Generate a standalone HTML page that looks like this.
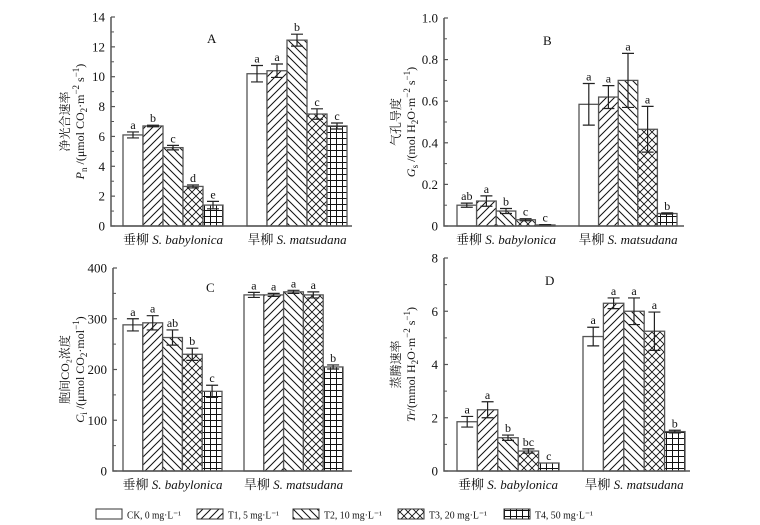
<!DOCTYPE html>
<html><head><meta charset="utf-8">
<style>
html,body{margin:0;padding:0;background:#fff;}
svg{display:block;font-family:"Liberation Serif","Noto Serif CJK SC",serif;}
</style></head>
<body>
<svg id="fig" width="760" height="525" viewBox="0 0 760 525" xmlns="http://www.w3.org/2000/svg">
<defs>
<pattern id="p1" patternUnits="userSpaceOnUse" width="8" height="8"><rect width="8" height="8" fill="#fff"/><path d="M-2,10 L10,-2 M-2,2 L2,-2 M6,10 L10,6" stroke="#111" stroke-width="1"/></pattern>
<pattern id="p2" patternUnits="userSpaceOnUse" width="8" height="8"><rect width="8" height="8" fill="#fff"/><path d="M-2,-2 L10,10 M6,-2 L10,2 M-2,6 L2,10" stroke="#111" stroke-width="1"/></pattern>
<pattern id="p3" patternUnits="userSpaceOnUse" width="8" height="8"><rect width="8" height="8" fill="#fff"/><path d="M-2,10 L10,-2 M-2,2 L2,-2 M6,10 L10,6 M-2,-2 L10,10 M6,-2 L10,2 M-2,6 L2,10" stroke="#111" stroke-width="0.9"/></pattern>
<pattern id="p4" patternUnits="userSpaceOnUse" width="6" height="6"><rect width="6" height="6" fill="#fff"/><path d="M0,0.5 H6 M0.5,0 V6" stroke="#111" stroke-width="1"/></pattern>
</defs>
<g id="root"></g>
</svg>
<script>
// ---- data ----
const groups = ["垂柳 S. babylonica", "旱柳 S. matsudana"];
const treatments = ["CK, 0 mg·L⁻¹", "T1, 5 mg·L⁻¹", "T2, 10 mg·L⁻¹", "T3, 20 mg·L⁻¹", "T4, 50 mg·L⁻¹"];
const aVals = [[6.1, 6.7, 5.25, 2.65, 1.4], [10.2, 10.4, 12.45, 7.5, 6.7]];
const aErr = [[0.2, 0.05, 0.15, 0.1, 0.25], [0.55, 0.45, 0.4, 0.35, 0.2]];
const aLet = [["a", "b", "c", "d", "e"], ["a", "a", "b", "c", "c"]];
const aTicks = [0, 2, 4, 6, 8, 10, 12, 14];
const bVals = [[0.10, 0.12, 0.072, 0.03, 0.005], [0.585, 0.62, 0.70, 0.465, 0.06]];
const bErr = [[0.01, 0.025, 0.012, 0.005, 0.002], [0.1, 0.055, 0.13, 0.11, 0.003]];
const bLet = [["ab", "a", "b", "c", "c"], ["a", "a", "a", "a", "b"]];
const bTicks = ["0", "0.2", "0.4", "0.6", "0.8", "1.0"];
const cVals = [[288, 292, 263, 230, 157], [347, 347, 353, 347, 205]];
const cErr = [[12, 14, 15, 12, 12], [5, 3, 3, 6, 4]];
const cLet = [["a", "a", "ab", "b", "c"], ["a", "a", "a", "a", "b"]];
const cTicks = [0, 100, 200, 300, 400];
const dVals = [[1.85, 2.3, 1.25, 0.75, 0.3], [5.05, 6.3, 6.0, 5.25, 1.48]];
const dErr = [[0.2, 0.3, 0.1, 0.08, 0], [0.35, 0.2, 0.5, 0.72, 0.05]];
const dLet = [["a", "a", "b", "bc", "c"], ["a", "a", "a", "a", "b"]];
const dTicks = [0, 2, 4, 6, 8];

const NS = "http://www.w3.org/2000/svg";
const root = document.getElementById("root");
function mk(tag, attrs, parent, text) {
  const e = document.createElementNS(NS, tag);
  for (const k in attrs) e.setAttribute(k, attrs[k]);
  if (text !== undefined) e.textContent = text;
  (parent || root).appendChild(e);
  return e;
}
const fills = ["#fff", "url(#p1)", "url(#p2)", "url(#p3)", "url(#p4)"];

function panel(cfg) {
  const g = mk("g", {});
  
  
  const max = parseFloat(cfg.ticks[cfg.ticks.length - 1]);
  const y = v => cfg.y0 - (v / max) * (cfg.y0 - cfg.yTop);
  cfg.vals.forEach((arr, gi) => {
    arr.forEach((v, i) => {
      const x = cfg.gx[gi] + i * cfg.bw;
      const r = mk("rect", {x: x, y: y(v), width: cfg.bw, height: cfg.y0 - y(v), fill: fills[i], stroke: "#555", "stroke-width": 1.3}, g);
      
      
      const e = cfg.err[gi][i];
      const cx = x + cfg.bw / 2;
      if (e > 0) {
        const eb = mk("path", {d: `M${cx},${y(v - e)} V${y(v + e)} M${cx - 6},${y(v + e)} H${cx + 6} M${cx - 6},${y(v - e)} H${cx + 6}`, stroke: "#222", "stroke-width": 1.2, fill: "none"}, g);
        
        
      }
      const t = mk("text", {x: cx, y: y(v + e) - 3, "text-anchor": "middle", "font-size": 12, fill: "#111"}, g, cfg.lets[gi][i]);
      
      
    });
  });
  const ax = mk("path", {d: `M${cfg.ax},${cfg.yTop} V${cfg.y0} H${cfg.axEnd}`, stroke: "#555", "stroke-width": 1.5, fill: "none"}, g);
  
  
  const n = cfg.ticks.length - 1;
  for (let k = 0; k <= n; k++) {
    const val = parseFloat(cfg.ticks[k]);
    const ty = y(val);
    mk("line", {x1: cfg.ax, x2: cfg.ax + 4, y1: ty, y2: ty, stroke: "#555", "stroke-width": 1.2}, g);
    if (k < n) {
      const my = y(val + max / n / 2);
      mk("line", {x1: cfg.ax, x2: cfg.ax + 3, y1: my, y2: my, stroke: "#555", "stroke-width": 1}, g);
    }
    const tl = mk("text", {x: cfg.ax - 6, y: ty + 4.5, "text-anchor": "end", "font-size": 13, fill: "#111"}, g, String(cfg.ticks[k]));
    
    
  }
  groups.forEach((name, gi) => {
    const parts = name.split(" ");
    const t = mk("text", {x: cfg.gx[gi] + cfg.bw * 2.5, y: cfg.y0 + 18, "text-anchor": "middle", "font-size": 13, fill: "#111"}, g);
    
    
    mk("tspan", {}, t, parts[0] + " ");
    mk("tspan", {"font-style": "italic"}, t, parts.slice(1).join(" "));
  });
  const pl = mk("text", {x: cfg.lx, y: cfg.ly, "font-size": 13, fill: "#111"}, g, cfg.id);
  
  
  const cy = (cfg.y0 + cfg.yTop) / 2;
  const t1 = mk("text", {x: 0, y: 0, transform: `translate(${cfg.tx},${cy}) rotate(-90)`, "text-anchor": "middle", "font-size": 12, fill: "#111"}, g, cfg.t1);
  
  
  const t2 = mk("text", {x: 0, y: 0, transform: `translate(${cfg.tx + 15},${cy}) rotate(-90)`, "text-anchor": "middle", "font-size": 12, fill: "#111"}, g);
  
  
  t2.innerHTML = cfg.t2;
}

panel({id: "A", vals: aVals, err: aErr, lets: aLet, ticks: aTicks, ax: 111, axEnd: 352, y0: 226, yTop: 17, gx: [123, 247], bw: 20, lx: 207, ly: 43, tx: 69,
  t1: "净光合速率", t2: '<tspan font-style="italic">P</tspan><tspan font-size="9" dy="3">n</tspan><tspan dy="-3"> /(μmol CO</tspan><tspan font-size="9" dy="3">2</tspan><tspan dy="-3">·m</tspan><tspan font-size="9" dy="-5">−2</tspan><tspan dy="5"> s</tspan><tspan font-size="9" dy="-5">−1</tspan><tspan dy="5">)</tspan>'});
panel({id: "B", vals: bVals, err: bErr, lets: bLet, ticks: bTicks, ax: 444, axEnd: 684, y0: 226, yTop: 18, gx: [457, 579], bw: 19.6, lx: 543, ly: 45, tx: 400,
  t1: "气孔导度", t2: '<tspan font-style="italic">G</tspan><tspan font-size="9" dy="3">s</tspan><tspan dy="-3"> /(mol H</tspan><tspan font-size="9" dy="3">2</tspan><tspan dy="-3">O·m</tspan><tspan font-size="9" dy="-5">−2</tspan><tspan dy="5"> s</tspan><tspan font-size="9" dy="-5">−1</tspan><tspan dy="5">)</tspan>'});
panel({id: "C", vals: cVals, err: cErr, lets: cLet, ticks: cTicks, ax: 113, axEnd: 352, y0: 471, yTop: 268, gx: [123, 244], bw: 19.8, lx: 206, ly: 292, tx: 69,
  t1: "胞间CO₂浓度", t2: '<tspan font-style="italic">C</tspan><tspan font-size="9" dy="3">i</tspan><tspan dy="-3"> /(μmol CO</tspan><tspan font-size="9" dy="3">2</tspan><tspan dy="-3">·mol</tspan><tspan font-size="9" dy="-5">−1</tspan><tspan dy="5">)</tspan>'});
panel({id: "D", vals: dVals, err: dErr, lets: dLet, ticks: dTicks, ax: 444, axEnd: 690, y0: 471, yTop: 258, gx: [457, 583], bw: 20.4, lx: 545, ly: 285, tx: 400,
  t1: "蒸腾速率", t2: '<tspan font-style="italic">Tr</tspan><tspan>/(mmol H</tspan><tspan font-size="9" dy="3">2</tspan><tspan dy="-3">O·m</tspan><tspan font-size="9" dy="-5">−2</tspan><tspan dy="5"> s</tspan><tspan font-size="9" dy="-5">−1</tspan><tspan dy="5">)</tspan>'});

const legX = [96, 197, 293, 398, 504];
const legW = [80, 77, 84, 84, 84];
treatments.forEach((name, i) => {
  const g = mk("g", {});
  
  
  mk("rect", {x: legX[i], y: 509, width: 26, height: 10, fill: fills[i], stroke: "#333", "stroke-width": 1}, g);
  mk("text", {x: legX[i] + 31, y: 518.5, "font-size": 11, fill: "#111", textLength: legW[i] - 26, lengthAdjust: "spacingAndGlyphs"}, g, name);
});
</script>
</body></html>
